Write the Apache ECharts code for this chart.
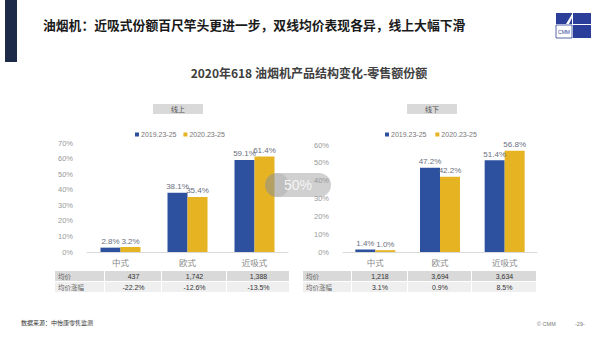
<!DOCTYPE html>
<html>
<head>
<meta charset="utf-8">
<script src="https://cdn.jsdelivr.net/npm/echarts@6/dist/echarts.min.js"></script>
<style>
html,body{margin:0;padding:0;background:#fff;}
#c{width:600px;height:337px;}
</style>
</head>
<body>
<div id="c"></div>
<script>
const categories = ['中式', '欧式', '近吸式'];
const seriesNames = ['2019.23-25', '2020.23-25'];
const onlineShare2019 = [2.8, 38.1, 59.1];
const onlineShare2020 = [3.2, 35.4, 61.4];
const offlineShare2019 = [1.4, 47.2, 51.4];
const offlineShare2020 = [1.0, 42.2, 56.8];
const onlineYTicks = [0, 10, 20, 30, 40, 50, 60, 70];
const offlineYTicks = [0, 10, 20, 30, 40, 50, 60];
const rowLabels = ['均价', '均价涨幅'];
const onlinePrice = ['437', '1,742', '1,388'];
const onlinePriceChange = ['-22.2%', '-12.6%', '-13.5%'];
const offlinePrice = ['1,218', '3,694', '3,634'];
const offlinePriceChange = ['3.1%', '0.9%', '8.5%'];

const FONT = "'Liberation Sans','Noto Sans CJK SC',sans-serif";
const CJK = "'Noto Sans CJK SC',sans-serif";
const BLUE = '#2E519F';
const YELLOW = '#E6B422';

const chart = echarts.init(document.getElementById('c'), null, {renderer: 'svg'});

function table(cols, rowsY, vals) {
  const els = [];
  for (let r = 0; r < 2; r++) {
    const fill = r === 0 ? '#d9d9d9' : '#efefef';
    for (let c = 0; c < 4; c++) {
      const x0 = cols[c], x1 = cols[c + 1];
      els.push({type: 'rect', shape: {x: x0, y: rowsY[r], width: x1 - x0 - 1, height: rowsY[r + 1] - rowsY[r] - 1},
        style: {fill: fill}, silent: true});
      const txt = c === 0 ? rowLabels[r] : vals[r][c - 1];
      els.push({type: 'text', x: c === 0 ? x0 + 3 : (x0 + x1) / 2, y: (rowsY[r] + rowsY[r + 1]) / 2 - 0.5,
        style: {text: txt, fontSize: c === 0 ? 6.5 : 7, fontFamily: c === 0 ? CJK : FONT,
          fill: c === 0 ? '#666' : '#333', align: c === 0 ? 'left' : 'center', verticalAlign: 'middle'}});
    }
  }
  return els;
}

const graphics = [
  {type: 'rect', shape: {x: 5, y: 0, width: 12, height: 62}, style: {fill: '#1E2B48'}},
  {type: 'text', x: 43, y: 24, style: {text: '油烟机：近吸式份额百尺竿头更进一步，双线均价表现各异，线上大幅下滑',
    fontSize: 12.8, fontWeight: 'bold', fontFamily: CJK, fill: '#1a1a1a', verticalAlign: 'middle'}},
  {type: 'text', x: 309, y: 72, style: {text: '2020年618 油烟机产品结构变化-零售额份额',
    fontSize: 12, fontWeight: 'bold', fontFamily: CJK, fill: '#404040', align: 'center', verticalAlign: 'middle'}},
  // logo
  {type: 'rect', shape: {x: 556, y: 13, width: 16, height: 11}, style: {fill: '#2B3F9A'}},
  {type: 'rect', shape: {x: 573, y: 13, width: 18, height: 11}, style: {fill: '#2B3F9A'}},
  {type: 'rect', shape: {x: 573, y: 25, width: 18, height: 13}, style: {fill: '#2B3F9A'}},
  {type: 'rect', shape: {x: 556, y: 25, width: 16, height: 13}, style: {fill: '#fff', stroke: '#2B3F9A', lineWidth: 0.8}},
  {type: 'polygon', shape: {points: [[566, 24], [572, 14], [572, 18], [569, 24]]}, style: {fill: '#fff'}},
  {type: 'text', x: 564, y: 32, style: {text: 'CMM', fontSize: 5, fontFamily: FONT, fill: '#2B3F9A', align: 'center', verticalAlign: 'middle'}},
  // section tags
  {type: 'rect', shape: {x: 153, y: 104, width: 50, height: 10}, style: {fill: '#d9d9d9'}},
  {type: 'text', x: 178, y: 109, style: {text: '线上', fontSize: 7, fontFamily: CJK, fill: '#555', align: 'center', verticalAlign: 'middle'}},
  {type: 'rect', shape: {x: 407, y: 104, width: 50, height: 10}, style: {fill: '#d9d9d9'}},
  {type: 'text', x: 432, y: 109, style: {text: '线下', fontSize: 7, fontFamily: CJK, fill: '#555', align: 'center', verticalAlign: 'middle'}},
  // footer
  {type: 'text', x: 21, y: 322, style: {text: '数据来源：中怡康零售监测', fontSize: 6, fontFamily: CJK, fill: '#333', verticalAlign: 'middle'}},
  {type: 'text', x: 537, y: 324, style: {text: '© CMM', fontSize: 5.5, fontFamily: FONT, fill: '#777', verticalAlign: 'middle'}},
  {type: 'text', x: 575, y: 324, style: {text: '-29-', fontSize: 5.5, fontFamily: FONT, fill: '#777', verticalAlign: 'middle'}}
].concat(
  table([55, 105, 162, 227, 290], [271, 282, 293], [onlinePrice, onlinePriceChange]),
  table([303, 352, 408, 472, 537], [271, 282, 293], [offlinePrice, offlinePriceChange]),
  [
    {type: 'rect', z: 100, shape: {x: 265, y: 173, width: 66, height: 24, r: 12}, style: {fill: 'rgba(150,150,150,0.45)'}},
    {type: 'circle', z: 100, shape: {cx: 277, cy: 185, r: 12}, style: {fill: 'rgba(140,140,140,0.25)'}},
    {type: 'text', z: 101, x: 298, y: 185, style: {text: '50%', fontSize: 14, fontFamily: FONT, fill: 'rgba(255,255,255,0.8)', align: 'center', verticalAlign: 'middle'}}
  ]
);

function barLabel() {
  return {show: true, position: 'top', distance: 2, fontSize: 8, fontFamily: FONT, color: '#6b7080',
    formatter: p => p.value.toFixed(1) + '%'};
}

function xAxis(gi) {
  return {type: 'category', gridIndex: gi, data: categories,
    axisLine: {lineStyle: {color: '#d9d9d9'}}, axisTick: {show: false},
    axisLabel: {fontSize: 8.5, fontFamily: CJK, color: '#888', margin: 6}};
}
function yAxis(gi, ticks) {
  return {type: 'value', gridIndex: gi, min: ticks[0], max: ticks[ticks.length - 1], interval: ticks[1] - ticks[0],
    axisLine: {show: false}, axisTick: {show: false}, splitLine: {show: false},
    axisLabel: {fontSize: 7.5, fontFamily: FONT, color: '#999', margin: 14, formatter: v => v + '%'}};
}

function legend(names, left) {
  return {data: names, left: left, top: 126, itemWidth: 4, itemHeight: 4, itemGap: 7, icon: 'rect',
    textStyle: {fontSize: 7, fontFamily: FONT, color: '#777', padding: [0, 0, 0, -3]}};
}

const offlineNames = seriesNames.map(s => s + ' ');

const option = {
  animation: false,
  textStyle: {fontFamily: FONT},
  grid: [
    {left: 87, top: 143, width: 201, height: 109},
    {left: 343, top: 145, width: 194, height: 107}
  ],
  legend: [legend(seriesNames, 130), legend(offlineNames, 380)],
  xAxis: [xAxis(0), xAxis(1)],
  yAxis: [yAxis(0, onlineYTicks), yAxis(1, offlineYTicks)],
  series: [
    {name: seriesNames[0], type: 'bar', xAxisIndex: 0, yAxisIndex: 0, data: onlineShare2019, barWidth: 20, barGap: '0%', itemStyle: {color: BLUE}, label: barLabel()},
    {name: seriesNames[1], type: 'bar', xAxisIndex: 0, yAxisIndex: 0, data: onlineShare2020, barWidth: 20, barGap: '0%', itemStyle: {color: YELLOW}, label: barLabel()},
    {name: offlineNames[0], type: 'bar', xAxisIndex: 1, yAxisIndex: 1, data: offlineShare2019, barWidth: 20, barGap: '0%', itemStyle: {color: BLUE}, label: barLabel()},
    {name: offlineNames[1], type: 'bar', xAxisIndex: 1, yAxisIndex: 1, data: offlineShare2020, barWidth: 20, barGap: '0%', itemStyle: {color: YELLOW}, label: barLabel()}
  ],
  graphic: graphics
};
chart.setOption(option);
</script>
</body>
</html>
